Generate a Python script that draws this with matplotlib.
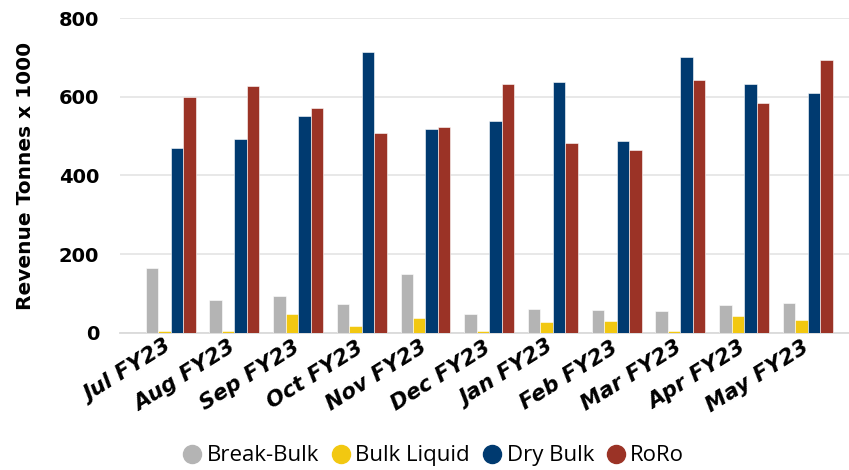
import matplotlib
matplotlib.use('Agg')
import matplotlib.pyplot as plt
import matplotlib.transforms as mtransforms
import numpy as np
from matplotlib.lines import Line2D

# monthly revenue tonnes (x 1000)
months = ['Jul FY23', 'Aug FY23', 'Sep FY23', 'Oct FY23', 'Nov FY23', 'Dec FY23',
          'Jan FY23', 'Feb FY23', 'Mar FY23', 'Apr FY23', 'May FY23']
break_bulk = [166, 84, 94, 74, 149, 49, 62, 58, 56, 72, 77]
bulk_liquid = [5, 5, 48, 18, 39, 5, 28, 30, 5, 42, 34]
dry_bulk = [470, 493, 550, 713, 518, 539, 638, 488, 701, 633, 609]
roro = [599, 627, 572, 509, 524, 632, 483, 466, 643, 584, 694]

series = ['Break-Bulk', 'Bulk Liquid', 'Dry Bulk', 'RoRo']
colors = ['#B4B4B4', '#F2C811', '#003A70', '#9B3326']

fig = plt.figure(figsize=(8.49, 4.70), dpi=100)
ax = fig.add_axes([0.1413, 0.2915, 0.8587, 0.6702])

x = np.arange(len(months))
w = 0.196
for i, (vals, c) in enumerate(zip([break_bulk, bulk_liquid, dry_bulk, roro], colors)):
    ax.bar(x + (i - 1.5) * w, vals, width=w, color=c, edgecolor='#FFFFFF',
           linewidth=0.4, zorder=3)

ax.set_xlim(-0.796, 10.648)
ax.set_ylim(0, 800)
ax.set_yticks([0, 200, 400, 600, 800])
ax.grid(axis='y', color='#E6E6E6', linewidth=1.3, zorder=0)
for s in ['top', 'right', 'left']:
    ax.spines[s].set_visible(False)
ax.spines['bottom'].set_color('#DADADA')
ax.spines['bottom'].set_linewidth(1.3)
ax.tick_params(axis='both', length=0)
ax.tick_params(axis='y', pad=15)
ax.tick_params(axis='x', pad=3)

ax.set_xticks(x)
ax.set_xticklabels(months, rotation=32, ha='right', rotation_mode='anchor',
                   fontfamily='DejaVu Sans', fontweight='bold', fontstyle='italic',
                   fontsize=15.5)
# nudge tick labels a little left, as in the original
shift = mtransforms.ScaledTranslation(-6 / 100, 0, fig.dpi_scale_trans)
for lab in ax.get_xticklabels():
    lab.set_transform(lab.get_transform() + shift)
for lab in ax.get_yticklabels():
    lab.set_fontfamily('DejaVu Sans')
    lab.set_fontweight('bold')
    lab.set_fontsize(14)

ax.set_ylabel('Revenue Tonnes x 1000', fontfamily='DejaVu Sans', fontweight='bold',
              fontsize=14.5)
ax.yaxis.set_label_coords(-0.117, 0.5)

handles = [Line2D([], [], marker='o', linestyle='', markersize=13, color=c) for c in colors]
fig.legend(handles, series, loc='center', bbox_to_anchor=(0.511, 0.030), ncol=4,
           frameon=False, handletextpad=0.25, columnspacing=0.59, handlelength=0.8,
           prop={'family': 'Open Sans', 'size': 16})

fig.savefig('out.png', dpi=100)
